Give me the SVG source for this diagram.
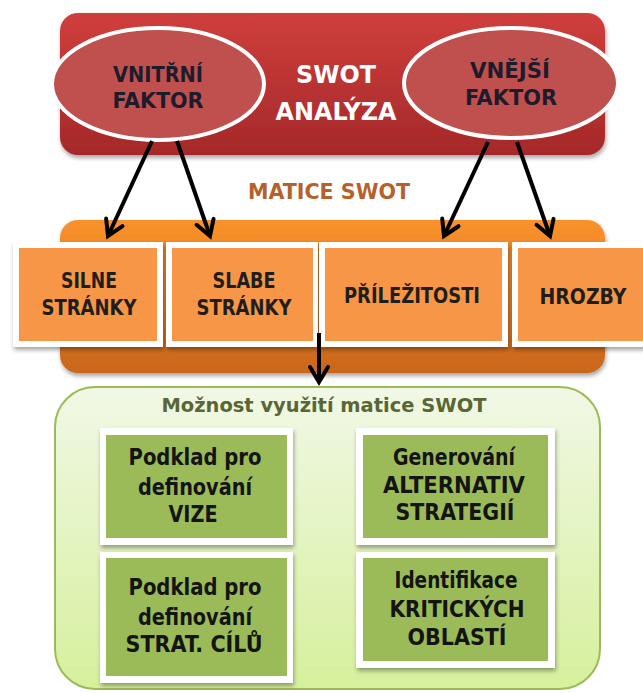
<svg xmlns="http://www.w3.org/2000/svg" width="643" height="693" viewBox="0 0 643 693">
<defs>
<linearGradient id="gRed" x1="0" y1="0" x2="0" y2="1">
<stop offset="0" stop-color="#cf3f3c"/>
<stop offset="1" stop-color="#a52829"/>
</linearGradient>
<linearGradient id="gOrange" x1="0" y1="0" x2="0" y2="1">
<stop offset="0" stop-color="#f9922a"/>
<stop offset="1" stop-color="#c9661d"/>
</linearGradient>
<linearGradient id="gGreen" x1="0" y1="0" x2="0" y2="1">
<stop offset="0" stop-color="#f1f8e6"/>
<stop offset="1" stop-color="#d6f09c"/>
</linearGradient>
<filter id="shadow" x="-10%" y="-10%" width="125%" height="130%">
<feDropShadow dx="1" dy="3" stdDeviation="2" flood-color="#000" flood-opacity="0.35"/>
</filter>
<marker id="arrow" markerUnits="userSpaceOnUse" viewBox="-20 -13 24 26" refX="0" refY="0" markerWidth="24" markerHeight="26" orient="auto">
<path d="M-15,-9 L0,0 L-15,9" fill="none" stroke="#000" stroke-width="4" stroke-linecap="round" stroke-linejoin="miter"/>
</marker>
<style>
.t{font-family:"Liberation Sans Narrow","DejaVu Sans Condensed","Liberation Sans",sans-serif;font-weight:bold;text-anchor:middle}
.ell{fill:#c0504d;stroke:#fff;stroke-width:4}
.et{font-size:21px;fill:#1c1c2c}
.wbox{fill:#fff}
.obox{fill:#f79646}
.ot{font-size:22px;fill:#1e1e1e}
.gbox{fill:#9bbb59}
.gt{font-size:23px;fill:#141414}
.conn{stroke:#000;stroke-width:4;fill:none;marker-end:url(#arrow)}
</style>
</defs>

<g id="swot-analyza">
<rect x="60" y="13" width="545" height="142" rx="18" fill="url(#gRed)" filter="url(#shadow)"/>
<text class="t" x="336" y="83" font-size="24" fill="#fff" textLength="80" lengthAdjust="spacingAndGlyphs">SWOT</text>
<text class="t" x="336" y="120" font-size="24" fill="#fff" textLength="121" lengthAdjust="spacingAndGlyphs">ANALÝZA</text>
</g>

<g id="vnitrni-faktor">
<ellipse class="ell" cx="158" cy="84" rx="106" ry="56"/>
<text class="t et" x="158" y="82" textLength="90" lengthAdjust="spacingAndGlyphs">VNITŘNÍ</text>
<text class="t et" x="158" y="108" textLength="91" lengthAdjust="spacingAndGlyphs">FAKTOR</text>
</g>

<g id="vnejsi-faktor">
<ellipse class="ell" cx="511" cy="83" rx="107" ry="55"/>
<text class="t et" x="510" y="78" textLength="80" lengthAdjust="spacingAndGlyphs">VNĚJŠÍ</text>
<text class="t et" x="511" y="105" textLength="92" lengthAdjust="spacingAndGlyphs">FAKTOR</text>
</g>

<g id="matice-swot">
<text class="t" x="329" y="199" font-size="22" fill="#b5612a" textLength="162" lengthAdjust="spacingAndGlyphs">MATICE SWOT</text>
<rect x="60" y="220" width="545" height="153" rx="18" fill="url(#gOrange)" filter="url(#shadow)"/>
</g>

<g id="silne-stranky">
<rect class="wbox" x="13" y="242" width="150" height="105" filter="url(#shadow)"/>
<rect class="obox" x="19" y="248" width="138" height="93"/>
<text class="t ot" x="89" y="288" textLength="56" lengthAdjust="spacingAndGlyphs">SILNE</text>
<text class="t ot" x="89" y="315" textLength="95" lengthAdjust="spacingAndGlyphs">STRÁNKY</text>
</g>

<g id="slabe-stranky">
<rect class="wbox" x="166" y="242" width="152" height="105" filter="url(#shadow)"/>
<rect class="obox" x="172" y="248" width="141" height="93"/>
<text class="t ot" x="244" y="288" textLength="63" lengthAdjust="spacingAndGlyphs">SLABE</text>
<text class="t ot" x="244" y="315" textLength="95" lengthAdjust="spacingAndGlyphs">STRÁNKY</text>
</g>

<g id="prilezitosti">
<rect class="wbox" x="319" y="242" width="189" height="105" filter="url(#shadow)"/>
<rect class="obox" x="325" y="248" width="177" height="93"/>
<text class="t ot" x="412" y="303" textLength="136" lengthAdjust="spacingAndGlyphs">PŘÍLEŽITOSTI</text>
</g>

<g id="hrozby">
<rect class="wbox" x="512" y="242" width="140" height="105" filter="url(#shadow)"/>
<rect class="obox" x="518" y="248" width="130" height="93"/>
<text class="t ot" x="583" y="304" textLength="87" lengthAdjust="spacingAndGlyphs">HROZBY</text>
</g>

<g id="moznost-vyuziti">
<rect x="55" y="387" width="545" height="302" rx="40" fill="url(#gGreen)" stroke="#9bbb59" stroke-width="2"/>
<text class="t" x="324" y="412" font-size="20" fill="#5a6633" textLength="325" lengthAdjust="spacingAndGlyphs">Možnost využití matice SWOT</text>
</g>

<g id="vize">
<rect class="wbox" x="100" y="428" width="193" height="117" filter="url(#shadow)"/>
<rect class="gbox" x="106" y="435" width="181" height="103"/>
<text class="t gt" x="195" y="465" textLength="133" lengthAdjust="spacingAndGlyphs">Podklad pro</text>
<text class="t gt" x="195" y="495" textLength="114" lengthAdjust="spacingAndGlyphs">definování</text>
<text class="t gt" x="193" y="522" textLength="49" lengthAdjust="spacingAndGlyphs">VIZE</text>
</g>

<g id="strat-cilu">
<rect class="wbox" x="100" y="552" width="193" height="131" filter="url(#shadow)"/>
<rect class="gbox" x="106" y="558" width="181" height="118"/>
<text class="t gt" x="195" y="595" textLength="133" lengthAdjust="spacingAndGlyphs">Podklad pro</text>
<text class="t gt" x="195" y="625" textLength="114" lengthAdjust="spacingAndGlyphs">definování</text>
<text class="t gt" x="194" y="652" textLength="137" lengthAdjust="spacingAndGlyphs">STRAT. CÍLŮ</text>
</g>

<g id="alternativ-strategii">
<rect class="wbox" x="356" y="428" width="199" height="117" filter="url(#shadow)"/>
<rect class="gbox" x="363" y="435" width="185" height="103"/>
<text class="t gt" x="454" y="465" textLength="122" lengthAdjust="spacingAndGlyphs">Generování</text>
<text class="t gt" x="454" y="493" textLength="142" lengthAdjust="spacingAndGlyphs">ALTERNATIV</text>
<text class="t gt" x="455" y="520" textLength="119" lengthAdjust="spacingAndGlyphs">STRATEGIÍ</text>
</g>

<g id="kritickych-oblasti">
<rect class="wbox" x="356" y="552" width="199" height="116" filter="url(#shadow)"/>
<rect class="gbox" x="363" y="558" width="185" height="103"/>
<text class="t gt" x="456" y="588" textLength="123" lengthAdjust="spacingAndGlyphs">Identifikace</text>
<text class="t gt" x="457" y="617" textLength="135" lengthAdjust="spacingAndGlyphs">KRITICKÝCH</text>
<text class="t gt" x="457" y="645" textLength="99" lengthAdjust="spacingAndGlyphs">OBLASTÍ</text>
</g>

<g id="connectors">
<line class="conn" x1="152" y1="141" x2="108" y2="236"/>
<line class="conn" x1="177" y1="141" x2="210" y2="236"/>
<line class="conn" x1="488" y1="142" x2="444" y2="236"/>
<line class="conn" x1="517" y1="142" x2="550" y2="236"/>
<line class="conn" x1="319" y1="333" x2="319" y2="382"/>
</g>
</svg>
